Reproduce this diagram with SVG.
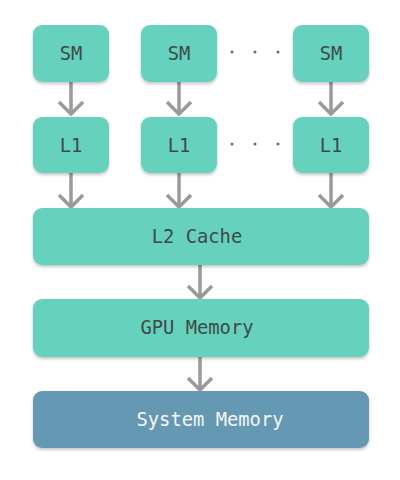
<svg xmlns="http://www.w3.org/2000/svg" width="400" height="480" viewBox="0 0 400 480">
<style>
.n{fill:#66d1bd;filter:url(#sh)}
.s{fill:#6598b3;filter:url(#sh)}
.t{font-family:"DejaVu Sans Mono",monospace;font-size:18.8px;fill:#3f4a48;text-anchor:middle}
.w{fill:#f4f7f8}
.a{stroke:#9a9a9a;stroke-width:3.5;fill:none}
.d{fill:#6a6a6a}
</style>
<defs>
<filter id="sh" x="-10%" y="-20%" width="120%" height="150%">
<feDropShadow dx="0" dy="2" stdDeviation="1.8" flood-color="#000" flood-opacity="0.22"/>
</filter>
</defs>
<rect width="400" height="480" fill="#fff"/>
<g id="connectors">
<path class="a" d="M71 82V114M59 102L71 114L83 102"/>
<path class="a" d="M179 82V114M167 102L179 114L191 102"/>
<path class="a" d="M331 82V114M319 102L331 114L343 102"/>
<path class="a" d="M71 173V207M59 195L71 207L83 195"/>
<path class="a" d="M179 173V207M167 195L179 207L191 195"/>
<path class="a" d="M331 173V207M319 195L331 207L343 195"/>
<path class="a" d="M200 265V298M188 286L200 298L212 286"/>
<path class="a" d="M200 357V390M188 378L200 390L212 378"/>
</g>
<g id="dots1"><circle class="d" cx="232" cy="52" r="1.5"/><circle class="d" cx="255" cy="52" r="1.5"/><circle class="d" cx="278" cy="52" r="1.5"/></g>
<g id="dots2"><circle class="d" cx="232" cy="144" r="1.5"/><circle class="d" cx="255" cy="144" r="1.5"/><circle class="d" cx="278" cy="144" r="1.5"/></g>
<g id="sm1"><rect class="n" x="33" y="25" width="76" height="57" rx="9"/><text class="t" x="71" y="60">SM</text></g>
<g id="sm2"><rect class="n" x="141" y="25" width="76" height="57" rx="9"/><text class="t" x="179" y="60">SM</text></g>
<g id="sm3"><rect class="n" x="293" y="25" width="76" height="57" rx="9"/><text class="t" x="331" y="60">SM</text></g>
<g id="l1a"><rect class="n" x="33" y="117" width="76" height="56" rx="9"/><text class="t" x="71" y="152">L1</text></g>
<g id="l1b"><rect class="n" x="141" y="117" width="76" height="56" rx="9"/><text class="t" x="179" y="152">L1</text></g>
<g id="l1c"><rect class="n" x="293" y="117" width="76" height="56" rx="9"/><text class="t" x="331" y="152">L1</text></g>
<g id="l2"><rect class="n" x="33" y="208" width="336" height="57" rx="9"/><text class="t" x="197" y="243">L2 Cache</text></g>
<g id="gpu"><rect class="n" x="33" y="299" width="336" height="58" rx="9"/><text class="t" x="197" y="334">GPU Memory</text></g>
<g id="sys"><rect class="s" x="33" y="391" width="336" height="57" rx="9"/><text class="t w" x="210" y="426">System Memory</text></g>
</svg>
